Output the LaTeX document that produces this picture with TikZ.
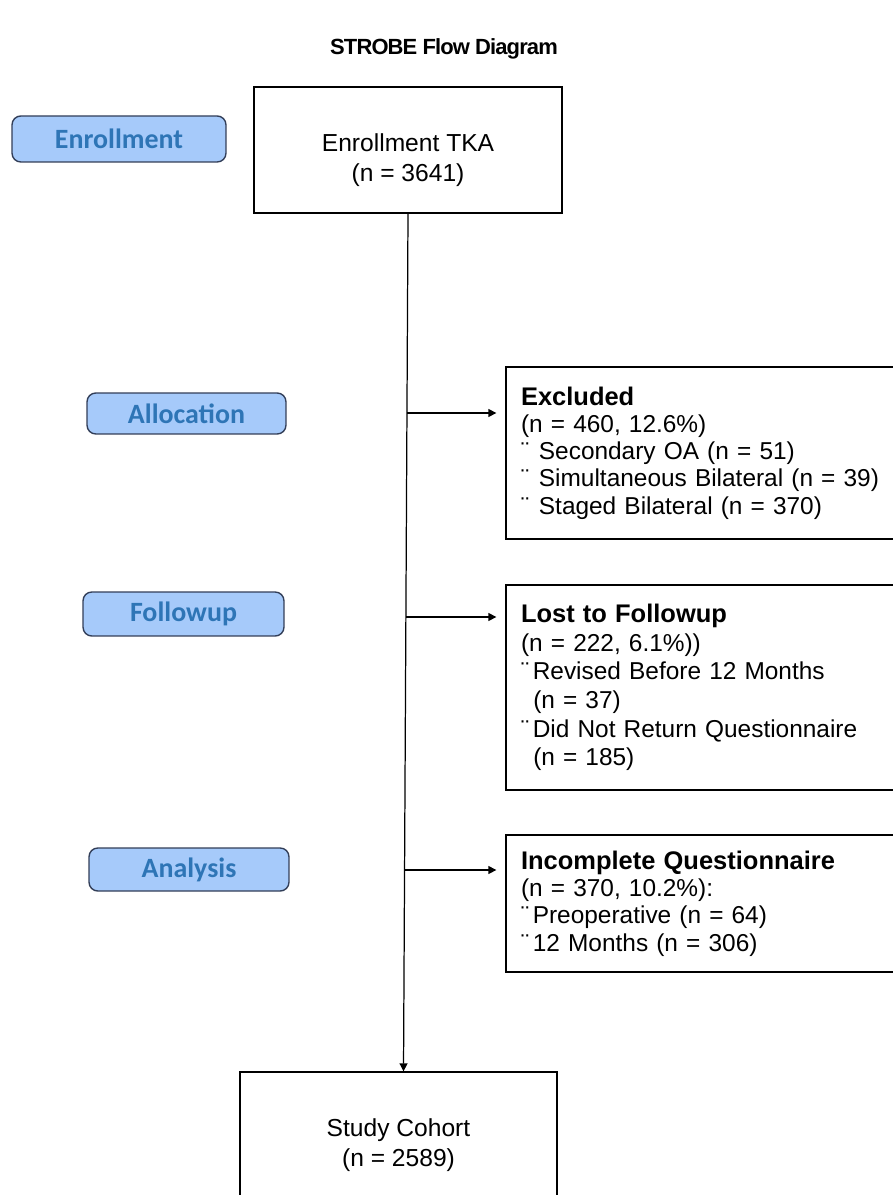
\documentclass[tikz,border=0pt]{standalone}
\usepackage{fontspec}
\setmainfont{Liberation Sans}
\newfontfamily\stagefont{Carlito}
\newfontfamily\titlefont[LetterSpace=-4]{Liberation Sans}
\usetikzlibrary{arrows.meta}
\definecolor{stagefill}{RGB}{166,202,250}
\definecolor{stagetext}{RGB}{46,117,182}
\definecolor{stageline}{RGB}{50,62,88}
\tikzset{
  stage/.style={draw=stageline,fill=stagefill,rounded corners=5pt,line width=0.8pt,
    text=stagetext,font=\stagefont\bfseries\fontsize{15.9}{18}\selectfont},
  flowbox/.style={draw,line width=0.8pt,align=center,font=\fontsize{14}{17}\selectfont},
  sidebox/.style={draw,line width=0.8pt,align=left,inner xsep=0.3cm,text width=7.38cm,
    minimum width=7.98cm,font=\fontsize{13.9}{15.5}\selectfont},
  flow/.style={-{Triangle[length=4.5pt,width=4.5pt]},line width=0.7pt}
}
\newcommand{\boxhead}[1]{{\fontsize{14.5}{15.5}\selectfont\bfseries #1}}
\begin{document}
\begin{tikzpicture}[x=0.02cm,y=-0.02cm]
    \useasboundingbox (0,0) rectangle (892,1195);
    \node[font=\titlefont\bfseries\fontsize{12.5}{14}\selectfont] (title) at (444,49) {STROBE Flow Diagram};
    % main column
    \node[flowbox,minimum width=6.16cm,minimum height=2.52cm,
        label={[align=center,font=\fontsize{14}{17}\selectfont,yshift=-0.2cm]center:Enrollment TKA\\(n = 3641)}]
        (enroll) at (408,150) {};
    \node[flowbox,minimum width=6.34cm,minimum height=2.92cm] (cohort) at (398.5,1145)
        {Study Cohort\\(n = 2589)};
    % stage labels
    \node[stage,minimum width=4.28cm,minimum height=0.92cm] (senroll) at (119,139) {Enrollment};
    \node[stage,minimum width=3.98cm,minimum height=0.82cm] (salloc) at (186.5,413.5) {Allocation};
    \node[stage,minimum width=4.02cm,minimum height=0.88cm] (sfollow) at (183.5,614) {Followup};
    \node[stage,minimum width=4.0cm,minimum height=0.86cm] (sanalysis) at (189,869.5) {Analysis};
    % side boxes
    \node[sidebox,minimum height=3.44cm] (excl) at (705.5,453) {\boxhead{Excluded}\\
        (n = 460, 12.6\%)\\
        ¨\hspace{0.4em}Secondary OA (n = 51)\\
        ¨\hspace{0.4em}Simultaneous Bilateral (n = 39)\\
        ¨\hspace{0.4em}Staged Bilateral (n = 370)};
    \node[sidebox,minimum height=4.1cm,font=\fontsize{13.9}{16.3}\selectfont] (lost) at (705.5,687.5) {\boxhead{Lost to Followup}\\
        (n = 222, 6.1\%))\\
        ¨\hspace{0.15em}Revised Before 12 Months\\
        \hspace{0.5em}(n = 37)\\
        ¨\hspace{0.15em}Did Not Return Questionnaire\\
        \hspace{0.5em}(n = 185)};
    \node[sidebox,minimum height=2.74cm] (incompl) at (705.5,903.5) {\boxhead{Incomplete Questionnaire}\\
        (n = 370, 10.2\%):\\
        ¨\hspace{0.15em}Preoperative (n = 64)\\
        ¨\hspace{0.15em}12 Months (n = 306)};
    % connectors
    \coordinate (j1) at (407,413);
    \coordinate (j2) at (406,617);
    \coordinate (j3) at (405,870);
    \draw[flow] (enroll.south) -- ([xshift=0.1cm]cohort.north);
    \draw[flow,shorten >=0.18cm] (j1) -- (j1 -| excl.west);
    \draw[flow,shorten >=0.18cm] (j2) -- (j2 -| lost.west);
    \draw[flow,shorten >=0.18cm] (j3) -- (j3 -| incompl.west);
\end{tikzpicture}
\end{document}
